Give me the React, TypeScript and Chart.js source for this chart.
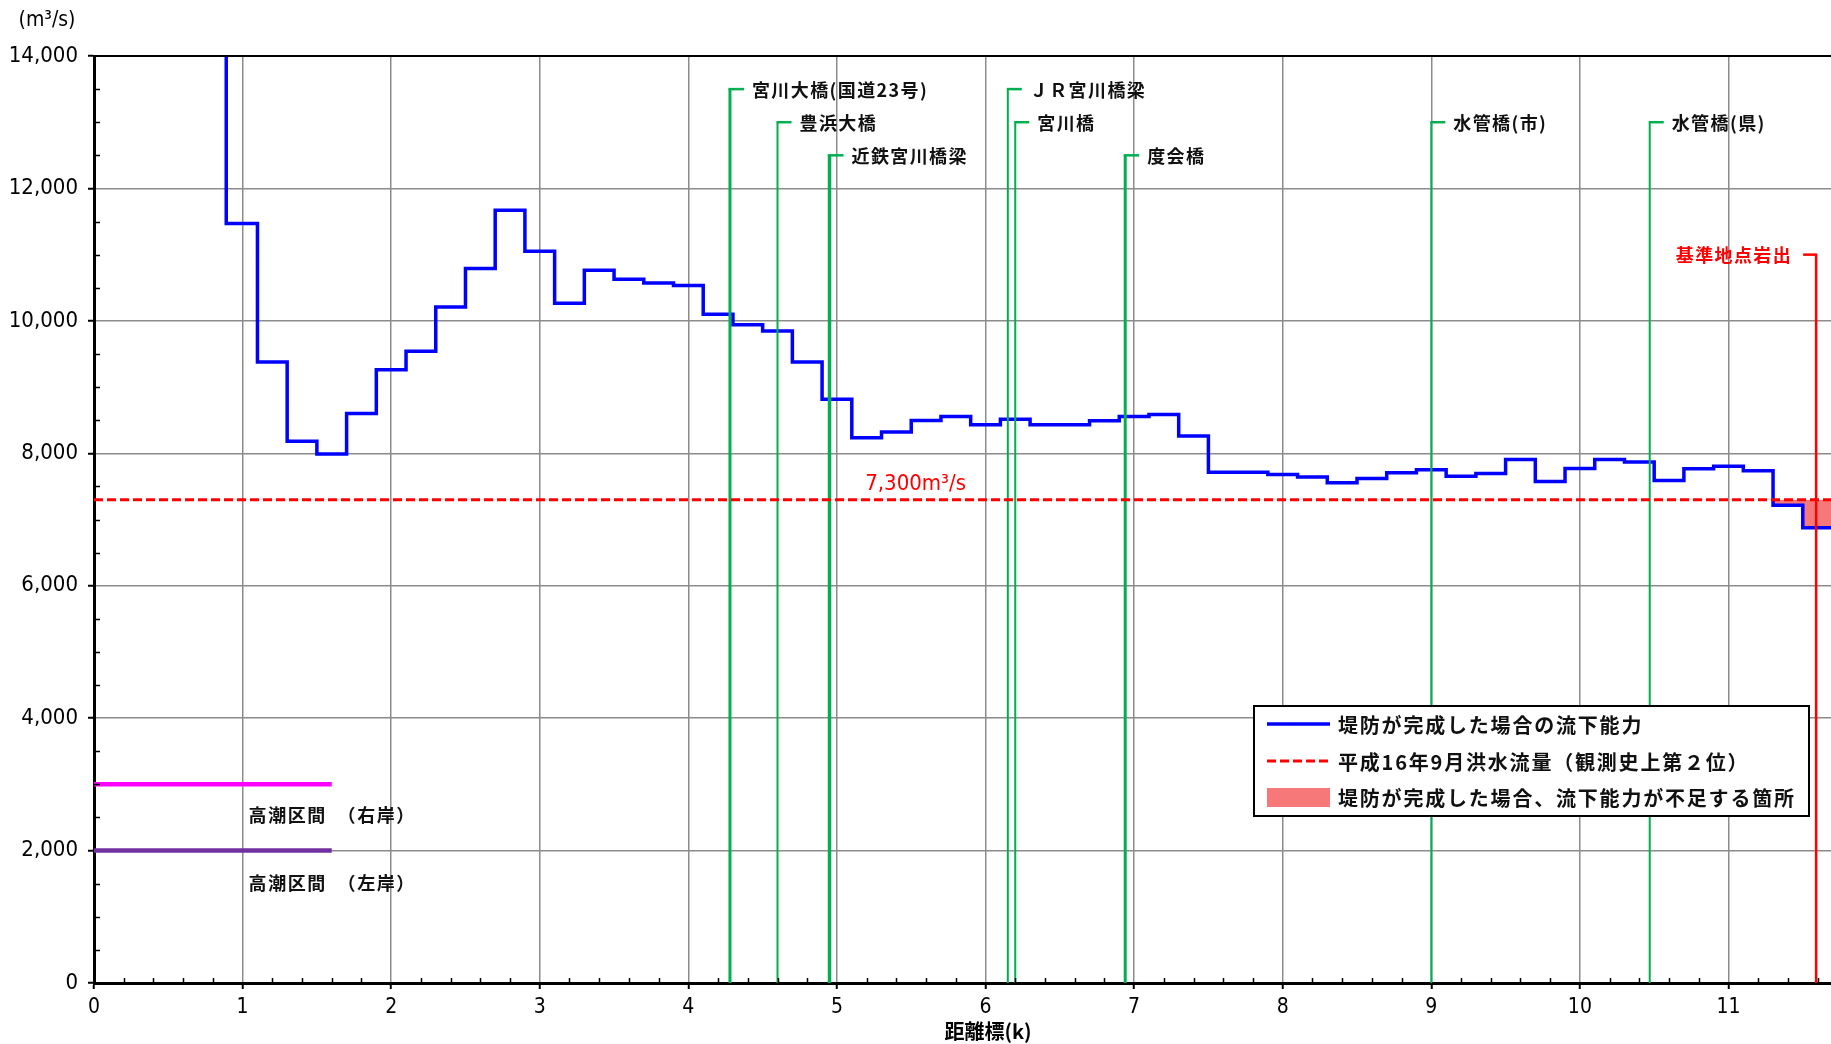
import React, { useEffect, useRef } from 'react';
import { Chart, registerables } from 'chart.js';

Chart.register(...registerables);

// ---------- data ----------
const X_MIN = 0;
const X_MAX = 11.69;
const Y_MIN = 0;
const Y_MAX = 14000;
const Y_STEP = 2000;

// start (km) of each step of the flow-capacity curve
const stepStartKm = [
  0.89, 1.1, 1.3, 1.5, 1.7, 1.9, 2.1, 2.3, 2.5, 2.7, 2.9, 3.1, 3.3, 3.5, 3.7, 3.9,
  4.1, 4.3, 4.5, 4.7, 4.9, 5.1, 5.3, 5.5, 5.7, 5.9, 6.1, 6.3, 6.5, 6.7, 6.9, 7.1,
  7.3, 7.5, 7.7, 7.9, 8.1, 8.3, 8.5, 8.7, 8.9, 9.1, 9.3, 9.5, 9.7, 9.9, 10.1, 10.3,
  10.5, 10.7, 10.9, 11.1, 11.3, 11.5,
];
// flow capacity (m3/s) after levee completion
const capacity = [
  11470, 9380, 8180, 7990, 8600, 9260, 9540, 10210, 10790, 11670, 11050, 10265, 10765, 10630, 10570, 10535,
  10100, 9940, 9845, 9380, 8815, 8235, 8320, 8495, 8555, 8430, 8515, 8430, 8430, 8490, 8555, 8585,
  8260, 7715, 7715, 7680, 7640, 7555, 7620, 7705, 7750, 7655, 7695, 7905, 7575, 7770, 7905, 7870,
  7590, 7765, 7805, 7735, 7215, 6875,
];

const floodFlow = 7300; // H16.9 flood
const floodLabel = '7,300m³/s';
const floodLabelKm = 5.19;

// high tide sections
const highTideEndKm = 1.6;
const highTideRightValue = 3000;
const highTideLeftValue = 2000;
const highTideLabels = ['高潮区間　（右岸）', '高潮区間　（左岸）'];
const highTideLabelKm = 1.04;
const highTideLabelValues = [2530, 1510];

// bridges
const bridgeNames = ['宮川大橋(国道23号)', '豊浜大橋', '近鉄宮川橋梁', 'ＪＲ宮川橋梁', '宮川橋', '度会橋', '水管橋(市)', '水管橋(県)'];
const bridgeKm = [4.28, 4.6, 4.95, 6.15, 6.2, 6.94, 9.0, 10.47];
const bridgeLabelValue = [13500, 13000, 12500, 13500, 13000, 12500, 13000, 13000];
const bridgeLineWidth = [3, 2, 3.5, 2, 2, 3, 2, 2];

// reference point
const refPointName = '基準地点岩出';
const refPointKm = 11.59;
const refPointLabelValue = 11000;

const legendLabels = [
  '堤防が完成した場合の流下能力',
  '平成16年9月洪水流量（観測史上第２位）',
  '堤防が完成した場合、流下能力が不足する箇所',
];

// ---------- styles ----------
const NARROW = '"Liberation Sans Narrow", "DejaVu Sans Condensed", "Liberation Sans", Arial, sans-serif';
const CJK = '"Noto Sans CJK JP", "Noto Sans", sans-serif';
const BLUE = '#0000ff';
const RED = '#ff0000';
const GREEN = '#00b050';
const PINK = 'rgba(244, 96, 96, 0.85)';
const GRID = '#8c8c8c';

const annotPlugin = {
  id: 'annot',
  afterDatasetsDraw(chart: any) {
    const { ctx, chartArea } = chart;
    const xs = chart.scales.x;
    const ys = chart.scales.y;
    ctx.save();

    // top border
    ctx.strokeStyle = '#000';
    ctx.lineWidth = 2;
    ctx.beginPath();
    ctx.moveTo(chartArea.left, chartArea.top);
    ctx.lineTo(chartArea.right, chartArea.top);
    ctx.stroke();

    // minor ticks
    ctx.lineWidth = 1.5;
    ctx.beginPath();
    for (let v = 0.2; v < X_MAX; v += 0.2) {
      if (Math.abs(v - Math.round(v)) < 1e-6) continue;
      const px = Math.round(xs.getPixelForValue(v)) + 0.5;
      ctx.moveTo(px, chartArea.bottom);
      ctx.lineTo(px, chartArea.bottom - 5);
    }
    for (let v = 500; v < Y_MAX; v += 500) {
      if (v % Y_STEP === 0) continue;
      const py = Math.round(ys.getPixelForValue(v)) + 0.5;
      ctx.moveTo(chartArea.left, py);
      ctx.lineTo(chartArea.left + 6, py);
    }
    ctx.stroke();

    // bridge brackets and labels
    ctx.font = `bold 18px ${CJK}`;
    (ctx as any).letterSpacing = '1.4px';
    ctx.textBaseline = 'middle';
    bridgeNames.forEach((name, i) => {
      const px = xs.getPixelForValue(bridgeKm[i]);
      const py = ys.getPixelForValue(bridgeLabelValue[i]);
      ctx.strokeStyle = GREEN;
      ctx.lineWidth = 2.5;
      ctx.beginPath();
      ctx.moveTo(px - bridgeLineWidth[i] / 2, py);
      ctx.lineTo(px + 14, py);
      ctx.stroke();
      ctx.fillStyle = '#111';
      ctx.textAlign = 'left';
      ctx.fillText(name, px + 22, py + 1);
    });

    // reference point
    {
      const px = xs.getPixelForValue(refPointKm);
      const py = ys.getPixelForValue(refPointLabelValue);
      ctx.strokeStyle = RED;
      ctx.lineWidth = 2.5;
      ctx.beginPath();
      ctx.moveTo(px + 1, py);
      ctx.lineTo(px - 13, py);
      ctx.stroke();
      ctx.fillStyle = RED;
      ctx.textAlign = 'right';
      ctx.fillText(refPointName, px - 24, py + 1);
    }

    // high tide labels
    ctx.font = `bold 18px ${CJK}`;
    (ctx as any).letterSpacing = '1.6px';
    ctx.fillStyle = '#111';
    ctx.textAlign = 'left';
    highTideLabels.forEach((t, i) => {
      ctx.fillText(t, xs.getPixelForValue(highTideLabelKm), ys.getPixelForValue(highTideLabelValues[i]));
    });

    // flood value label
    (ctx as any).letterSpacing = '0px';
    ctx.font = `22px ${NARROW}`;
    ctx.fillStyle = RED;
    ctx.textBaseline = 'alphabetic';
    ctx.fillText(floodLabel, xs.getPixelForValue(floodLabelKm), ys.getPixelForValue(floodFlow) - 10);

    // axis titles
    ctx.fillStyle = '#000';
    ctx.textAlign = 'center';
    ctx.textBaseline = 'middle';
    ctx.font = `21px ${NARROW}`;
    ctx.fillText('(m³/s)', 47, 21);
    ctx.font = `bold 20px ${CJK}`;
    ctx.fillText('距離標(k)', 988, 1031);

    // legend
    const lx = 1254, ly = 706, lw = 555, lh = 110;
    ctx.fillStyle = '#fff';
    ctx.fillRect(lx, ly, lw, lh);
    ctx.strokeStyle = '#000';
    ctx.lineWidth = 2;
    ctx.strokeRect(lx, ly, lw, lh);
    const rows = [ly + 18, ly + 55, ly + 91.5];
    ctx.strokeStyle = BLUE;
    ctx.lineWidth = 3.5;
    ctx.beginPath();
    ctx.moveTo(lx + 13, rows[0]);
    ctx.lineTo(lx + 76, rows[0]);
    ctx.stroke();
    ctx.strokeStyle = RED;
    ctx.lineWidth = 3;
    ctx.setLineDash([9, 4]);
    ctx.beginPath();
    ctx.moveTo(lx + 13, rows[1]);
    ctx.lineTo(lx + 76, rows[1]);
    ctx.stroke();
    ctx.setLineDash([]);
    ctx.fillStyle = PINK;
    ctx.fillRect(lx + 13, rows[2] - 9.5, 63, 19);
    ctx.fillStyle = '#111';
    ctx.textAlign = 'left';
    ctx.font = `bold 20px ${CJK}`;
    (ctx as any).letterSpacing = '1.8px';
    legendLabels.forEach((t, i) => ctx.fillText(t, lx + 84, rows[i] + 1));
    (ctx as any).letterSpacing = '0px';

    ctx.restore();
  },
};

export default function App() {
  const canvasRef = useRef<HTMLCanvasElement | null>(null);

  useEffect(() => {
    const canvas = canvasRef.current;
    if (!canvas) return;

    const capPoints = [
      { x: stepStartKm[0], y: Y_MAX },
      ...stepStartKm.map((x, i) => ({ x, y: capacity[i] })),
      { x: X_MAX, y: capacity[capacity.length - 1] },
    ];

    const datasets: any[] = [
      {
        label: legendLabels[0],
        data: capPoints,
        borderColor: BLUE,
        borderWidth: 3.5,
        stepped: true,
        pointRadius: 0,
        order: 2,
        fill: { target: { value: floodFlow }, above: 'rgba(0,0,0,0)', below: PINK },
      },
      {
        label: legendLabels[1],
        data: [
          { x: X_MIN, y: floodFlow },
          { x: X_MAX, y: floodFlow },
        ],
        borderColor: RED,
        borderWidth: 3,
        borderDash: [9, 4],
        pointRadius: 0,
        fill: false,
        order: 0,
      },
      {
        label: 'right bank',
        data: [
          { x: X_MIN, y: highTideRightValue },
          { x: highTideEndKm, y: highTideRightValue },
        ],
        borderColor: '#ff00ff',
        borderWidth: 4.5,
        pointRadius: 0,
        fill: false,
        order: 1,
      },
      {
        label: 'left bank',
        data: [
          { x: X_MIN, y: highTideLeftValue },
          { x: highTideEndKm, y: highTideLeftValue },
        ],
        borderColor: '#7030a0',
        borderWidth: 4.5,
        pointRadius: 0,
        fill: false,
        order: 1,
      },
      ...bridgeKm.map((km, i) => ({
        label: bridgeNames[i],
        data: [
          { x: km, y: Y_MIN },
          { x: km, y: bridgeLabelValue[i] },
        ],
        borderColor: GREEN,
        borderWidth: bridgeLineWidth[i],
        pointRadius: 0,
        fill: false,
        order: 1,
      })),
      {
        label: refPointName,
        data: [
          { x: refPointKm, y: Y_MIN },
          { x: refPointKm, y: refPointLabelValue },
        ],
        borderColor: RED,
        borderWidth: 2.5,
        pointRadius: 0,
        fill: false,
        order: 0,
      },
    ];

    const chart = new Chart(canvas, {
      type: 'line',
      data: { datasets },
      options: {
        responsive: false,
        animation: false,
        events: [],
        layout: { padding: { top: 56, left: 0, right: 0, bottom: 0 } },
        plugins: {
          legend: { display: false },
          tooltip: { enabled: false },
        },
        scales: {
          x: {
            type: 'linear',
            min: X_MIN,
            max: X_MAX,
            ticks: {
              stepSize: 1,
              includeBounds: false,
              autoSkip: false,
              maxRotation: 0,
              color: '#000',
              padding: 6,
              font: { family: NARROW, size: 21 },
            },
            grid: { color: GRID, lineWidth: 1.5, tickLength: 6, tickColor: '#000', tickWidth: 2 },
            border: { color: '#000', width: 3 },
            afterFit: (s: any) => {
              s.height = 61;
            },
          },
          y: {
            type: 'linear',
            min: Y_MIN,
            max: Y_MAX,
            ticks: {
              stepSize: Y_STEP,
              color: '#000',
              padding: 10,
              font: { family: NARROW, size: 22 },
              callback: (v: any) => Number(v).toLocaleString('en-US'),
            },
            grid: { color: GRID, lineWidth: 1.5, tickLength: 6, tickColor: '#000', tickWidth: 2 },
            border: { color: '#000', width: 3 },
            afterFit: (s: any) => {
              s.width = 94;
            },
          },
        },
      } as any,
      plugins: [annotPlugin],
    });

    return () => chart.destroy();
  }, []);

  return (
    <div style={{ position: 'absolute', left: 0, top: 0, width: 1831, height: 1044, background: '#fff' }}>
      <canvas ref={canvasRef} width={1831} height={1044} style={{ display: 'block' }} />
    </div>
  );
}
